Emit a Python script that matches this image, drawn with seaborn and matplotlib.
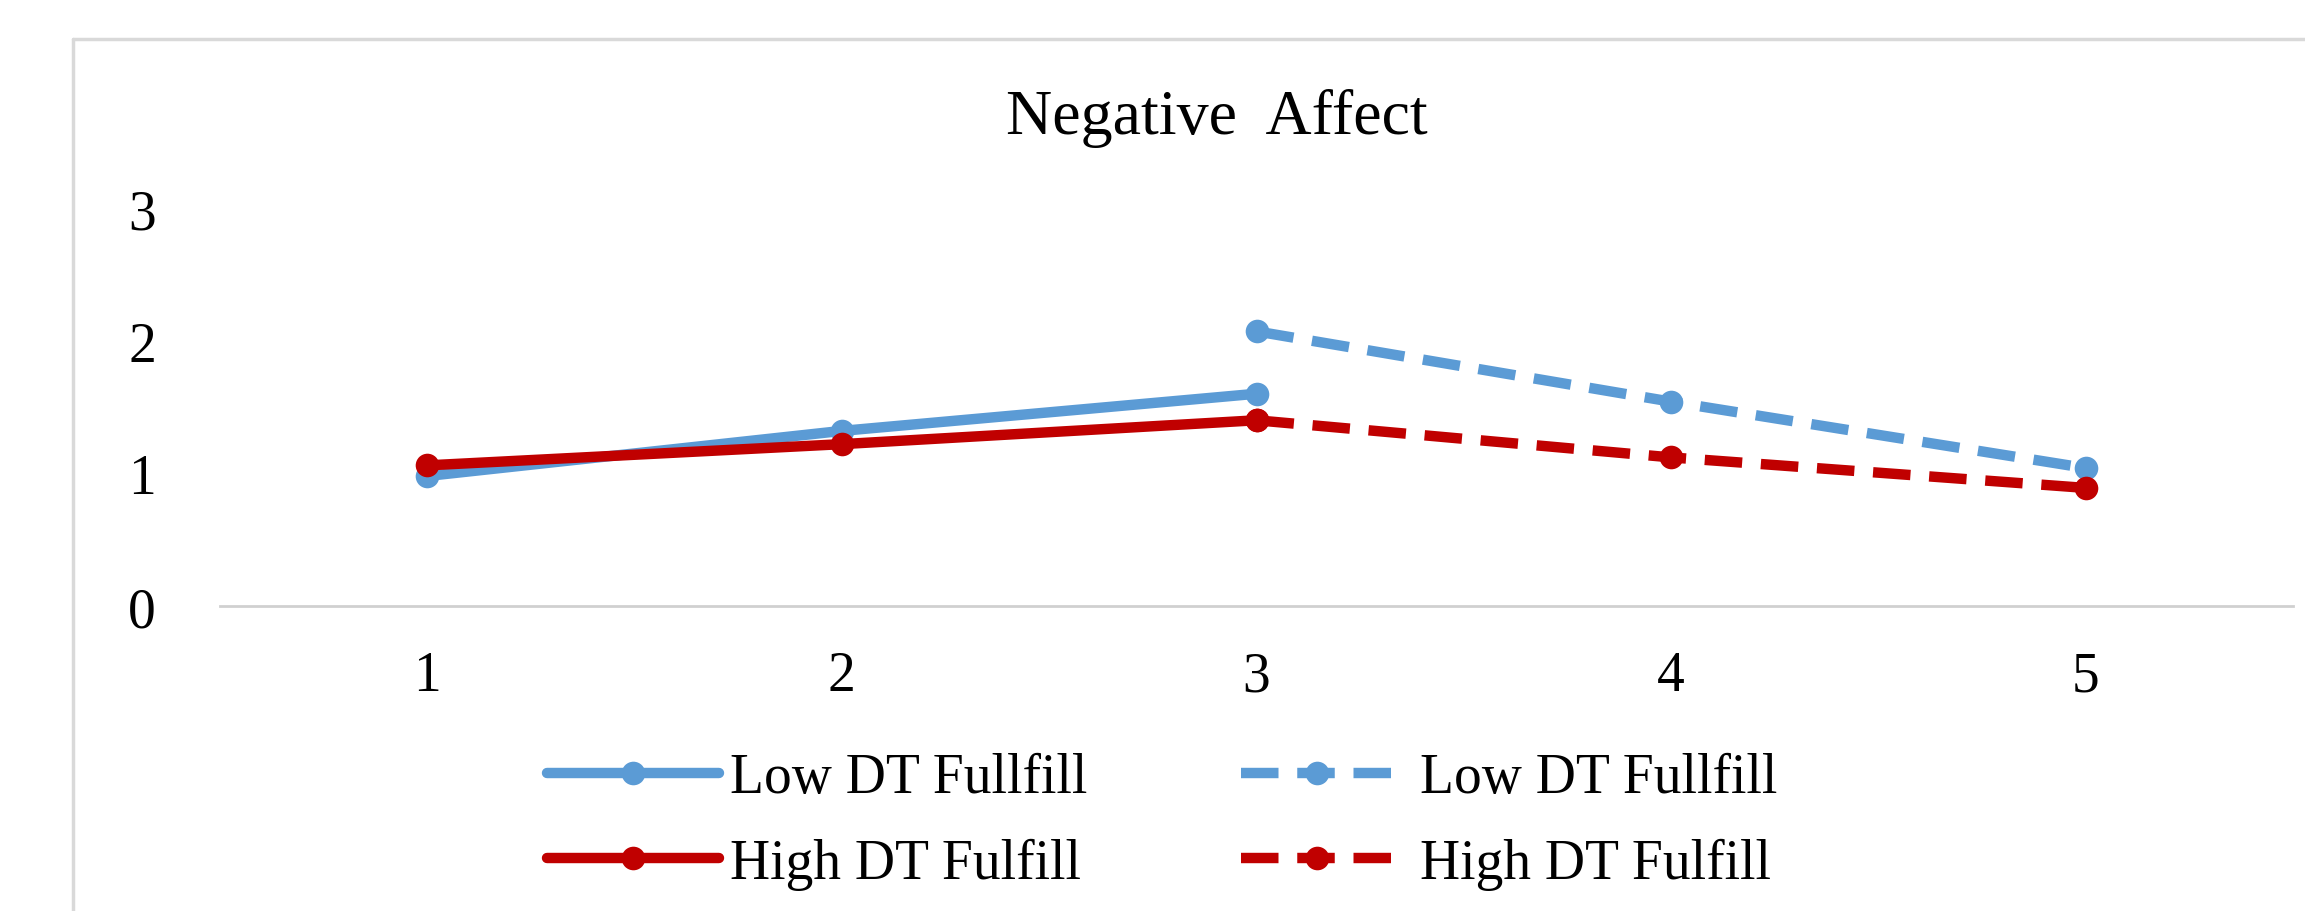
import numpy as np
import pandas as pd
import matplotlib.pyplot as plt
import seaborn as sns
from matplotlib.lines import Line2D

# values
time_before = [1, 2, 3]
time_after = [3, 4, 5]
low_before = [0.98, 1.32, 1.60]
low_after = [2.07, 1.54, 1.04]
high_before = [1.06, 1.22, 1.40]
high_after = [1.40, 1.12, 0.89]
x_ticks = [1, 2, 3, 4, 5]
y_ticks = [0, 1, 2, 3]
low_label = 'Low DT Fullfill'
high_label = 'High DT Fulfill'
title = 'Negative  Affect'

blue = '#5B9BD5'
red = '#C00000'

sns.set_theme(style='white')
plt.rcParams['font.family'] = ['Liberation Serif', 'DejaVu Serif']
plt.rcParams['text.color'] = 'black'

# long frame: one row per point
dflist = []
for grp, before, after in [('Low', low_before, low_after), ('High', high_before, high_after)]:
    dflist.append(pd.DataFrame({'time': time_before, 'value': before, 'group': grp, 'phase': 'before'}))
    dflist.append(pd.DataFrame({'time': time_after, 'value': after, 'group': grp, 'phase': 'after'}))
df = pd.concat(dflist, ignore_index=True)

lw = 7.5
dash = (3.6, 1.8)
ms = 17

fig = plt.figure(figsize=(23.05, 9.12), dpi=100)
ax = fig.add_axes([220 / 2305, 1 - 607 / 912, (2293 - 220) / 2305, (607 - 209) / 912])

sns.lineplot(data=df, x='time', y='value', hue='group', style='phase',
             palette={'Low': blue, 'High': red},
             dashes={'before': '', 'after': dash},
             markers={'before': 'o', 'after': 'o'},
             markersize=ms, markeredgewidth=0, linewidth=lw,
             errorbar=None, legend=False, ax=ax)

ax.set_xlim(0.5, 5.5)
ax.set_ylim(0, 3)
ax.set_xticks(x_ticks)
ax.set_xticklabels([str(t) for t in x_ticks])
ax.set_yticks(y_ticks)
ax.set_yticklabels([str(t) for t in y_ticks])
ax.set_xlabel('')
ax.set_ylabel('')
ax.tick_params(axis='both', length=0, labelsize=40, labelcolor='black')
ax.tick_params(axis='y', pad=46)
ax.tick_params(axis='x', pad=32)
for side in ['top', 'right', 'left']:
    ax.spines[side].set_visible(False)
ax.spines['bottom'].set_color('#d0d0d0')
ax.spines['bottom'].set_linewidth(2)
ax.grid(False)

fig.text(1217 / 2305, 1 - 118 / 912, title, ha='center', va='center', fontsize=46, color='black')

# outer chart frame (only top and left edges are visible in the crop)
frame_kw = dict(color='#d9d9d9', linewidth=2.5, transform=fig.transFigure)
fig.add_artist(Line2D([73 / 2305, 1], [1 - 40 / 912, 1 - 40 / 912], **frame_kw))
fig.add_artist(Line2D([73 / 2305, 73 / 2305], [0, 1 - 40 / 912], **frame_kw))

# legend: two columns placed separately
def handle(color, ls):
    return Line2D([], [], color=color, linewidth=lw, linestyle=ls, marker='o',
                  markersize=ms, markeredgewidth=0)

leg_kw = dict(loc='center left', frameon=False, fontsize=40, borderpad=0, borderaxespad=0,
              labelspacing=0.6, labelcolor='black')
leg1 = fig.legend([handle(blue, '-'), handle(red, '-')], [low_label, high_label],
                  bbox_to_anchor=(547 / 2305, 1 - 822 / 912),
                  handlelength=3.1, handletextpad=0.2, **leg_kw)
leg2 = fig.legend([handle(blue, (0, dash)), handle(red, (0, dash))], [low_label, high_label],
                  bbox_to_anchor=(1241 / 2305, 1 - 822 / 912),
                  handlelength=2.72, handletextpad=0.5, **leg_kw)

fig.savefig('out.png', dpi=100)
